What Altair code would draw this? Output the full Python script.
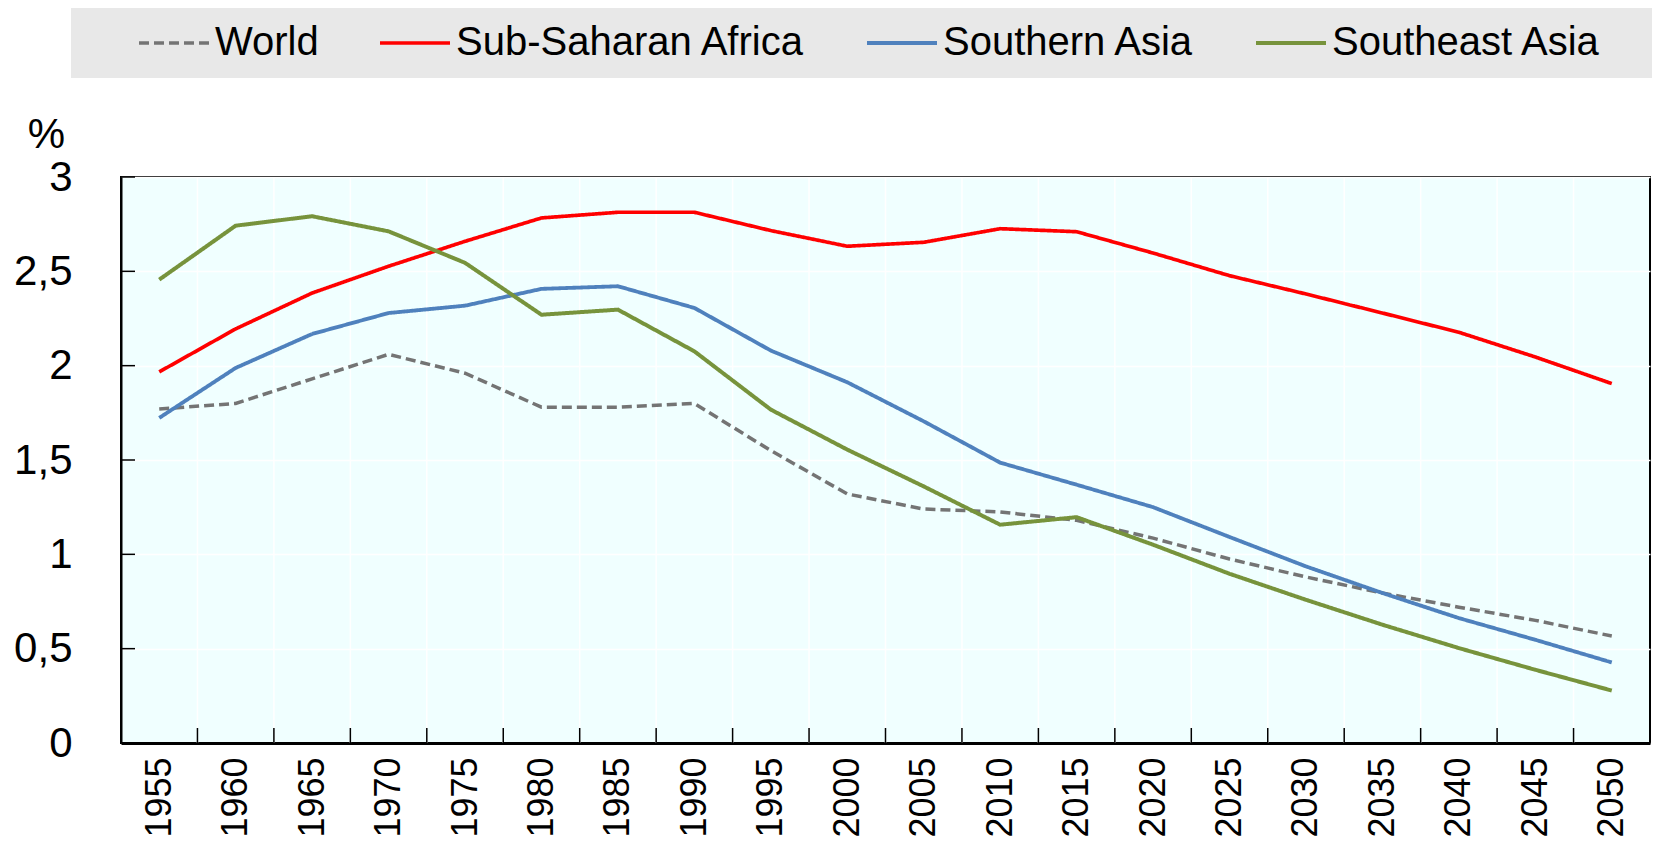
import altair as alt
import pandas as pd

years = list(range(1955, 2051, 5))
series_names = ["World", "Sub-Saharan Africa", "Southern Asia", "Southeast Asia"]
world = [1.77, 1.80, 1.93, 2.06, 1.96, 1.78, 1.78, 1.80, 1.55, 1.32, 1.24, 1.225, 1.18, 1.086, 0.975, 0.88, 0.795, 0.72, 0.65, 0.567]
ssa = [1.967, 2.195, 2.385, 2.527, 2.659, 2.783, 2.813, 2.813, 2.716, 2.633, 2.654, 2.726, 2.71, 2.597, 2.477, 2.38, 2.279, 2.177, 2.046, 1.905]
s_asia = [1.723, 1.988, 2.168, 2.279, 2.318, 2.407, 2.421, 2.306, 2.08, 1.912, 1.705, 1.486, 1.369, 1.25, 1.092, 0.936, 0.795, 0.662, 0.547, 0.427]
se_asia = [2.456, 2.742, 2.792, 2.712, 2.545, 2.270, 2.297, 2.076, 1.767, 1.555, 1.36, 1.157, 1.197, 1.051, 0.897, 0.759, 0.627, 0.503, 0.388, 0.278]
y_ticks = [0, 0.5, 1, 1.5, 2, 2.5, 3]
boundaries = [y + 2.5 for y in years[:-1]]

colors = ["#747474", "#FF0000", "#4F81BD", "#77933C"]
dashes = [[10, 5], [1, 0], [1, 0], [1, 0]]
widths = [3.5, 4, 3.5, 3.5]

FONT = "Liberation Sans Narrow, Arial Narrow, Liberation Sans, Arial"
W, H = 1529, 566

rows = []
for name, vals in zip(series_names, [world, ssa, s_asia, se_asia]):
    for yr, v in zip(years, vals):
        rows.append({"year": yr, "value": v, "series": name})
df = pd.DataFrame(rows)

xscale = alt.Scale(domain=[1952.5, 2052.5], nice=False, zero=False)
yscale = alt.Scale(domain=[0, 3], nice=False, zero=True)

xaxis = alt.Axis(
    values=years, format="d", labelAngle=-90, labelAlign="right", labelBaseline="middle",
    labelFont=FONT, labelFontSize=36, labelColor="black", labelPadding=14,
    ticks=False, tickSize=0, grid=False, domainColor="black", domainWidth=3,
    title=None, labelOverlap=False, labelFlush=False,
)
yaxis = alt.Axis(
    values=y_ticks, labelExpr="replace(toString(datum.value), '.', ',')",
    labelFont=FONT, labelFontSize=42, labelColor="black", labelPadding=49,
    ticks=False, tickSize=0, grid=True, gridColor="white", gridWidth=1.5,
    domainColor="black", domainWidth=2, labelOverlap=False, labelFlush=False,
    title="%", titleAngle=0, titleX=-75, titleY=-30, titleAlign="center",
    titleBaseline="alphabetic", titleFont=FONT, titleFontSize=42,
    titleFontWeight="normal", titleColor="black",
)

legend = alt.Legend(
    orient="none", legendX=16, legendY=-171, direction="horizontal", title=None,
    labelFont=FONT, labelFontSize=40, labelColor="black", labelLimit=1000,
    symbolType="stroke", symbolSize=4900, symbolStrokeWidth=4, labelOffset=4,
    columnPadding=53, padding=0,
)

box = alt.Chart(pd.DataFrame({"a": [0]})).mark_rect(fill="#E8E8E8").encode(
    x=alt.value(-50), x2=alt.value(W + 2), y=alt.value(-171), y2=alt.value(-99)
)

vgrid = alt.Chart(pd.DataFrame({"year": boundaries})).mark_rule(color="white", strokeWidth=1.5).encode(
    x=alt.X("year:Q", scale=xscale, axis=xaxis), y=alt.value(0), y2=alt.value(H)
)
xticks = alt.Chart(pd.DataFrame({"year": boundaries})).mark_rule(color="black", strokeWidth=1.5).encode(
    x=alt.X("year:Q", scale=xscale, axis=xaxis), y=alt.value(H), y2=alt.value(H - 15)
)
yticks = alt.Chart(pd.DataFrame({"value": y_ticks})).mark_rule(color="black", strokeWidth=1.5).encode(
    y=alt.Y("value:Q", scale=yscale, axis=yaxis), x=alt.value(0), x2=alt.value(14)
)

lines = alt.Chart(df).mark_line().encode(
    x=alt.X("year:Q", scale=xscale, axis=xaxis),
    y=alt.Y("value:Q", scale=yscale, axis=yaxis),
    color=alt.Color("series:N", scale=alt.Scale(domain=series_names, range=colors), legend=legend),
    strokeDash=alt.StrokeDash("series:N", scale=alt.Scale(domain=series_names, range=dashes), legend=legend),
    strokeWidth=alt.StrokeWidth("series:N", scale=alt.Scale(domain=series_names, range=widths), legend=None),
)

chart = alt.layer(box, vgrid, xticks, yticks, lines).properties(
    width=W, height=H,
    autosize=alt.AutoSizeParams(type="none"),
    padding={"left": 113, "top": 169, "right": 2, "bottom": 100},
    background="white",
).configure_view(fill="#F0FFFF", stroke="black", strokeWidth=2)

chart.save("out.html", embed_options={"renderer": "svg", "actions": False})
